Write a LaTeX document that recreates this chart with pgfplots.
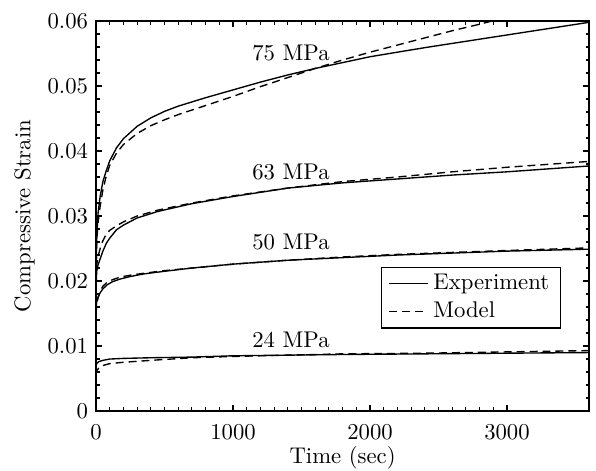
\documentclass[border=0pt]{standalone}
\usepackage{pgfplots}
\pgfplotsset{compat=1.18}
\begin{document}
\begin{tikzpicture}
\begin{axis}[
 scale only axis, width=217.2pt, height=171.8pt,
 xmin=0, xmax=3600, ymin=0, ymax=0.06,
 xtick={0,1000,2000,3000}, ytick={0,0.01,0.02,0.03,0.04,0.05,0.06},
 yticklabels={0,0.01,0.02,0.03,0.04,0.05,0.06},
 minor x tick num=9, minor y tick num=4,
 scaled ticks=false,
 xticklabel style={/pgf/number format/1000 sep={}, yshift=-2.5pt},
 xlabel={Time (sec)}, ylabel={Compressive Strain},
 every axis x label/.style={at={(rel axis cs:0.5,0)}, yshift=-20.7pt, anchor=center},
 every axis y label/.style={at={(rel axis cs:0,0.5)}, xshift=-31.5pt, rotate=90, anchor=center},
 tick align=inside,
 axis line style={line width=0.8pt},
 major tick length=2.8pt, minor tick length=1.6pt,
 every tick/.style={black, line width=0.5pt},
 legend style={at={(rel axis cs:0.943,0.370)}, anchor=north east, draw=black, line width=0.5pt, inner xsep=3pt, inner ysep=1pt},
 legend cell align=left,
 every axis plot/.append style={line width=0.6pt, black},
]
% 75 MPa
\addplot[solid] coordinates {(0,0.020)(3,0.025)(8,0.028)(15,0.0305)(30,0.0330)(50,0.0353)(75,0.0370)(100,0.0385)(150,0.0405)(200,0.0419)(300,0.0438)(400,0.0451)(500,0.0461)(600,0.0469)(800,0.0482)(1000,0.0494)(1200,0.0506)(1400,0.0517)(1600,0.0527)(1800,0.0536)(2000,0.0545)(2200,0.0552)(2400,0.0559)(2800,0.0572)(3200,0.0585)(3600,0.0598)};
\addlegendentry{Experiment}
\addplot[dash pattern=on 3.5pt off 2.2pt] coordinates {(0,0.021)(5,0.026)(15,0.029)(30,0.0315)(50,0.0340)(75,0.0362)(100,0.0378)(150,0.0397)(200,0.0410)(300,0.0427)(400,0.0439)(500,0.0448)(600,0.0456)(800,0.0470)(1000,0.0484)(1200,0.0499)(1400,0.0513)(1600,0.0527)(1800,0.0540)(2000,0.0552)(2200,0.0563)(2400,0.0574)(2600,0.0585)(2800,0.0595)(3000,0.0606)(3600,0.0635)};
\addlegendentry{Model}
% 63 MPa
\addplot[solid,forget plot] coordinates {(0,0.019)(5,0.0215)(15,0.0225)(30,0.0234)(50,0.0246)(75,0.0258)(100,0.0266)(150,0.0279)(200,0.0286)(300,0.0297)(450,0.0307)(700,0.0319)(1000,0.0330)(1400,0.0343)(1800,0.0351)(2200,0.0357)(2600,0.0363)(3000,0.0368)(3600,0.0377)};
\addplot[dash pattern=on 3.5pt off 2.2pt,forget plot] coordinates {(0,0.020)(5,0.0225)(15,0.0238)(30,0.0250)(50,0.0262)(75,0.0272)(100,0.0278)(150,0.0285)(200,0.0291)(300,0.0300)(450,0.0309)(700,0.0320)(1000,0.0331)(1400,0.0343)(1800,0.0353)(2200,0.0360)(2600,0.0368)(3000,0.0375)(3600,0.0384)};
% 50 MPa
\addplot[solid,forget plot] coordinates {(0,0.0160)(5,0.0168)(15,0.0175)(30,0.0182)(50,0.0188)(80,0.0194)(120,0.0199)(175,0.0203)(250,0.0207)(350,0.0211)(500,0.0215)(700,0.0220)(1000,0.0226)(1400,0.0232)(1800,0.0236)(2200,0.0240)(2600,0.0243)(3000,0.0246)(3600,0.0249)};
\addplot[dash pattern=on 3.5pt off 2.2pt,forget plot] coordinates {(0,0.0150)(5,0.0163)(15,0.0175)(30,0.0184)(50,0.0192)(80,0.0198)(120,0.0202)(175,0.0206)(250,0.0209)(350,0.0212)(500,0.0216)(700,0.0220)(1000,0.0226)(1400,0.0232)(1800,0.0237)(2200,0.0241)(2600,0.0244)(3000,0.0247)(3600,0.0251)};
% 24 MPa
\addplot[solid,forget plot] coordinates {(0,0.0070)(5,0.0073)(20,0.0076)(50,0.0078)(100,0.0080)(200,0.0081)(400,0.0082)(700,0.0083)(1000,0.0085)(1400,0.0086)(1800,0.0087)(2400,0.0088)(3000,0.0089)(3600,0.0090)};
\addplot[dash pattern=on 3.5pt off 2.2pt,forget plot] coordinates {(0,0.0055)(5,0.0062)(20,0.0066)(50,0.0070)(100,0.0073)(200,0.0075)(400,0.0078)(700,0.0082)(1000,0.0084)(1400,0.0086)(1800,0.0088)(2400,0.0089)(3000,0.0091)(3600,0.0093)};
\node at (axis cs:1423,0.0551) {75 MPa};
\node at (axis cs:1423,0.0367) {63 MPa};
\node at (axis cs:1423,0.0260) {50 MPa};
\node at (axis cs:1423,0.0109) {24 MPa};
\coordinate (SW) at (rel axis cs:0,0);
\coordinate (NE) at (rel axis cs:1,1);
\end{axis}
\pgfresetboundingbox
\path[use as bounding box] ([xshift=-42.3pt,yshift=-26.4pt]SW) rectangle ([xshift=3pt,yshift=9.25pt]NE);
\end{tikzpicture}
\end{document}
